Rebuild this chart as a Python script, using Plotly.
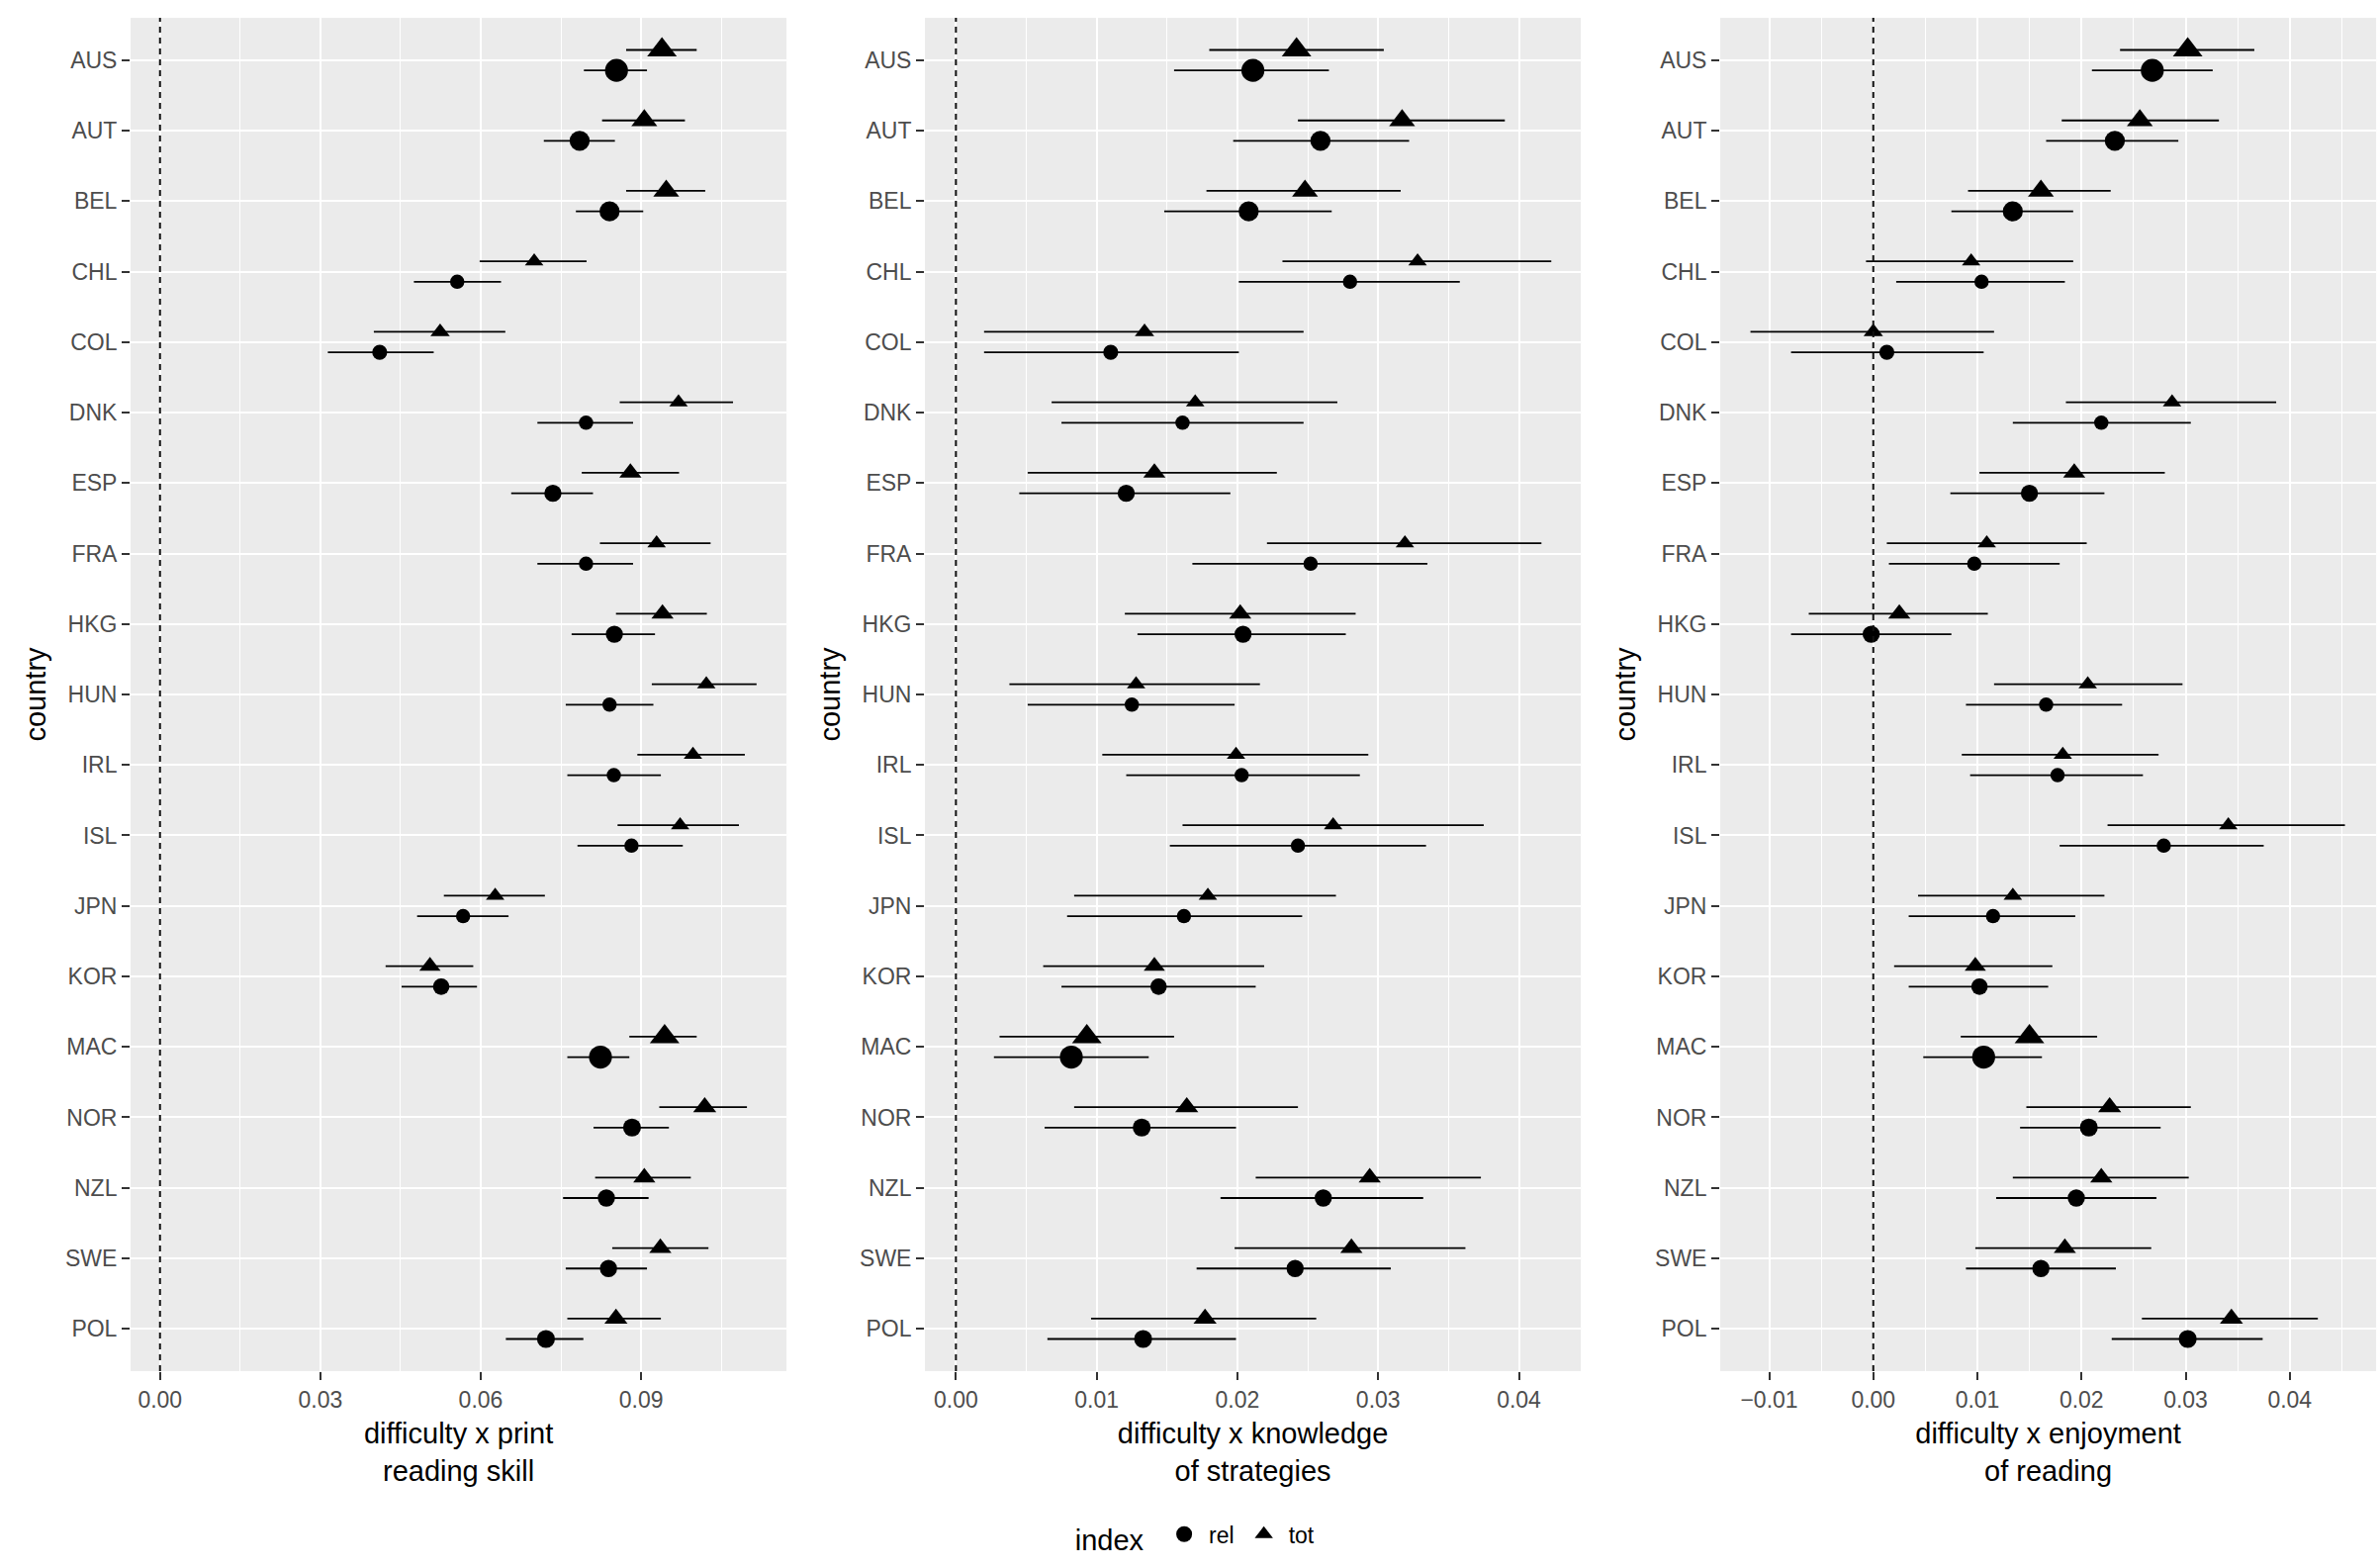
import plotly.graph_objects as go

# country order, top to bottom
countries = ["AUS", "AUT", "BEL", "CHL", "COL", "DNK", "ESP", "FRA", "HKG", "HUN",
             "IRL", "ISL", "JPN", "KOR", "MAC", "NOR", "NZL", "SWE", "POL"]

# relative point weight per country (mapped to marker size)
weight = [1.6, 1.4, 1.4, 1.0, 1.05, 1.0, 1.2, 1.0, 1.2, 1.0,
          1.0, 1.0, 1.0, 1.15, 1.6, 1.25, 1.2, 1.2, 1.25]

# difficulty x print reading skill
print_rel = [0.0854, 0.0785, 0.0841, 0.0556, 0.0411, 0.0797, 0.0735, 0.0797, 0.0850, 0.0841,
             0.0849, 0.0882, 0.0567, 0.0526, 0.0824, 0.0883, 0.0835, 0.0839, 0.0722]
print_rel_lo = [0.0793, 0.0718, 0.0778, 0.0475, 0.0314, 0.0706, 0.0657, 0.0706, 0.0770, 0.0759,
                0.0762, 0.0781, 0.0481, 0.0452, 0.0762, 0.0811, 0.0754, 0.0759, 0.0647]
print_rel_hi = [0.0911, 0.0851, 0.0904, 0.0638, 0.0512, 0.0885, 0.0810, 0.0885, 0.0926, 0.0923,
                0.0937, 0.0978, 0.0652, 0.0593, 0.0878, 0.0952, 0.0914, 0.0911, 0.0792]
print_tot = [0.0939, 0.0906, 0.0947, 0.0700, 0.0524, 0.0970, 0.0880, 0.0929, 0.0940, 0.1022,
             0.0997, 0.0973, 0.0627, 0.0505, 0.0944, 0.1019, 0.0906, 0.0936, 0.0853]
print_tot_lo = [0.0872, 0.0827, 0.0872, 0.0598, 0.0400, 0.0860, 0.0789, 0.0823, 0.0853, 0.0920,
                0.0893, 0.0856, 0.0531, 0.0422, 0.0878, 0.0934, 0.0814, 0.0846, 0.0762]
print_tot_hi = [0.1004, 0.0982, 0.1020, 0.0798, 0.0646, 0.1072, 0.0971, 0.1030, 0.1023, 0.1116,
                0.1094, 0.1083, 0.0720, 0.0586, 0.1004, 0.1098, 0.0993, 0.1026, 0.0937]

# difficulty x knowledge of strategies
strat_rel = [0.0211, 0.0259, 0.0208, 0.0280, 0.0110, 0.0161, 0.0121, 0.0252, 0.0204, 0.0125,
             0.0203, 0.0243, 0.0162, 0.0144, 0.0082, 0.0132, 0.0261, 0.0241, 0.0133]
strat_rel_lo = [0.0155, 0.0197, 0.0148, 0.0201, 0.0020, 0.0075, 0.0045, 0.0168, 0.0129, 0.0051,
                0.0121, 0.0152, 0.0079, 0.0075, 0.0027, 0.0063, 0.0188, 0.0171, 0.0065]
strat_rel_hi = [0.0265, 0.0322, 0.0267, 0.0358, 0.0201, 0.0247, 0.0195, 0.0335, 0.0277, 0.0198,
                0.0287, 0.0334, 0.0246, 0.0213, 0.0137, 0.0199, 0.0332, 0.0309, 0.0199]
strat_tot = [0.0242, 0.0317, 0.0248, 0.0328, 0.0134, 0.0170, 0.0141, 0.0319, 0.0202, 0.0128,
             0.0199, 0.0268, 0.0179, 0.0141, 0.0093, 0.0164, 0.0294, 0.0281, 0.0177]
strat_tot_lo = [0.0180, 0.0243, 0.0178, 0.0232, 0.0020, 0.0068, 0.0051, 0.0221, 0.0120, 0.0038,
                0.0104, 0.0161, 0.0084, 0.0062, 0.0031, 0.0084, 0.0213, 0.0198, 0.0096]
strat_tot_hi = [0.0304, 0.0390, 0.0316, 0.0423, 0.0247, 0.0271, 0.0228, 0.0416, 0.0284, 0.0216,
                0.0293, 0.0375, 0.0270, 0.0219, 0.0155, 0.0243, 0.0373, 0.0362, 0.0256]

# difficulty x enjoyment of reading
enjoy_rel = [0.0268, 0.0232, 0.0134, 0.0104, 0.0013, 0.0219, 0.0150, 0.0097, -0.0002, 0.0166,
             0.0177, 0.0279, 0.0115, 0.0102, 0.0106, 0.0207, 0.0195, 0.0161, 0.0302]
enjoy_rel_lo = [0.0210, 0.0166, 0.0075, 0.0022, -0.0079, 0.0134, 0.0074, 0.0015, -0.0079, 0.0089,
                0.0093, 0.0179, 0.0034, 0.0034, 0.0048, 0.0141, 0.0118, 0.0089, 0.0229]
enjoy_rel_hi = [0.0326, 0.0293, 0.0192, 0.0184, 0.0106, 0.0305, 0.0222, 0.0179, 0.0075, 0.0239,
                0.0259, 0.0375, 0.0194, 0.0168, 0.0162, 0.0276, 0.0272, 0.0233, 0.0374]
enjoy_tot = [0.0302, 0.0256, 0.0161, 0.0094, 0.0000, 0.0287, 0.0193, 0.0109, 0.0025, 0.0206,
             0.0182, 0.0341, 0.0134, 0.0098, 0.0150, 0.0227, 0.0219, 0.0184, 0.0344]
enjoy_tot_lo = [0.0237, 0.0181, 0.0091, -0.0007, -0.0118, 0.0185, 0.0102, 0.0013, -0.0062, 0.0116,
                0.0085, 0.0225, 0.0043, 0.0020, 0.0084, 0.0147, 0.0134, 0.0098, 0.0258]
enjoy_tot_hi = [0.0366, 0.0332, 0.0228, 0.0192, 0.0116, 0.0387, 0.0280, 0.0205, 0.0110, 0.0297,
                0.0274, 0.0453, 0.0222, 0.0172, 0.0215, 0.0305, 0.0303, 0.0267, 0.0427]

FONT = "Liberation Sans, Arial, sans-serif"
DODGE = 0.145
BASE_SIZE = 14.5
TRI_SCALE = 1.12

panels = [
    dict(title="difficulty x print<br>reading skill", xrange=[-0.0055, 0.1172], dtick=0.03,
         rel=(print_rel, print_rel_lo, print_rel_hi), tot=(print_tot, print_tot_lo, print_tot_hi),
         domain=[0.0549, 0.3306]),
    dict(title="difficulty x knowledge<br>of strategies", xrange=[-0.0022, 0.0444], dtick=0.01,
         rel=(strat_rel, strat_rel_lo, strat_rel_hi), tot=(strat_tot, strat_tot_lo, strat_tot_hi),
         domain=[0.3888, 0.6645]),
    dict(title="difficulty x enjoyment<br>of reading", xrange=[-0.0147, 0.0483], dtick=0.01,
         rel=(enjoy_rel, enjoy_rel_lo, enjoy_rel_hi), tot=(enjoy_tot, enjoy_tot_lo, enjoy_tot_hi),
         domain=[0.7231, 0.9988]),
]

pos = list(range(len(countries)))
series = [("rel", "circle", DODGE, 1.0), ("tot", "triangle-up", -DODGE, TRI_SCALE)]

fig = go.Figure()
layout = {}
for k, p in enumerate(panels):
    sfx = "" if k == 0 else str(k + 1)
    for name, symbol, off, scale in series:
        est, lo, hi = p[name]
        fig.add_trace(go.Scatter(
            x=est,
            y=[i + off for i in pos],
            mode="markers",
            name=name,
            legendgroup=name,
            showlegend=(k == 0),
            # opacity=1 explicitly: array sizes make plotly treat it as a bubble chart (0.7 default)
            marker=dict(symbol=symbol, size=[BASE_SIZE * scale * w for w in weight],
                        color="black", opacity=1, line=dict(width=0)),
            error_x=dict(type="data", symmetric=False,
                         array=[h - e for e, h in zip(est, hi)],
                         arrayminus=[e - l for e, l in zip(est, lo)],
                         width=0, thickness=1.8, color="black"),
            xaxis="x" + sfx, yaxis="y" + sfx,
            hovertemplate="%{x:.4f}<extra>" + name + "</extra>",
        ))

    layout["xaxis" + sfx] = dict(
        domain=p["domain"], anchor="y" + sfx, range=p["xrange"],
        tick0=0, dtick=p["dtick"], tickformat=".2f",
        showgrid=True, gridcolor="white", gridwidth=2.2,
        minor=dict(dtick=p["dtick"] / 2, tick0=0, showgrid=True, gridcolor="white", gridwidth=1.1),
        zeroline=False, showline=False,
        ticks="outside", ticklen=8, tickwidth=1.5, tickcolor="#333333",
        tickfont=dict(family=FONT, size=23, color="#4D4D4D"),
        title=dict(text=p["title"], standoff=12, font=dict(family=FONT, size=29, color="black")),
        automargin=False,
    )
    layout["yaxis" + sfx] = dict(
        domain=[0.1256, 0.9886], anchor="x" + sfx, range=[len(countries) - 0.4, -0.6],
        tickvals=pos, ticktext=countries,
        showgrid=True, gridcolor="white", gridwidth=2.2,
        zeroline=False, showline=False,
        ticks="outside", ticklen=8, tickwidth=1.5, tickcolor="#333333",
        tickfont=dict(family=FONT, size=23, color="#4D4D4D"),
        title=dict(text="country", standoff=10, font=dict(family=FONT, size=29, color="black")),
        automargin=False,
    )
    fig.add_shape(type="line", xref="x" + sfx, yref="y" + sfx + " domain",
                  x0=0, x1=0, y0=0, y1=1,
                  line=dict(color="#111111", width=2, dash="6px,5px"))

fig.update_layout(
    **layout,
    width=2405, height=1585, autosize=False,
    margin=dict(l=0, r=0, t=0, b=0),
    paper_bgcolor="white", plot_bgcolor="#EBEBEB",
    font=dict(family=FONT, size=23, color="black"),
    showlegend=True,
    legend=dict(
        orientation="h", x=0.503, xanchor="center", y=0.02, yanchor="middle",
        valign="middle",
        title=dict(text="index ", side="left", font=dict(family=FONT, size=29, color="black")),
        font=dict(family=FONT, size=23, color="black"),
        itemsizing="trace", itemwidth=40, bgcolor="rgba(0,0,0,0)",
    ),
)

# the page's default body margin would shift the fixed-size figure by 8px
fig.write_html("out.html", config={"displayModeBar": False},
               post_script="document.body.style.margin='0px';")
